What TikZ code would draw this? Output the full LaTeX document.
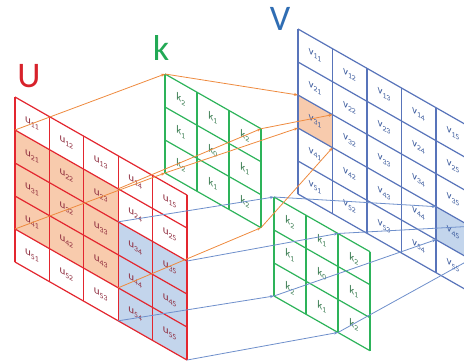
\documentclass[tikz,border=0pt]{standalone}
\usepackage{fontspec}
\setmainfont{Carlito}
\usetikzlibrary{arrows.meta}
\definecolor{ugrid}{HTML}{E3262F}
\definecolor{kgrid}{HTML}{2DB35A}
\definecolor{vgrid}{HTML}{5874BA}
\definecolor{utext}{HTML}{8E2A3C}
\definecolor{ktext}{HTML}{3B7D52}
\definecolor{vtext}{HTML}{3D5C9E}
\definecolor{ofill}{HTML}{F8CBAD}
\definecolor{bfill}{HTML}{C3D5EC}
\definecolor{oconn}{HTML}{EE8A3E}
\definecolor{bconn}{HTML}{6E8FCB}
\definecolor{bigU}{HTML}{D7222B}
\definecolor{bigk}{HTML}{22A955}
\definecolor{bigV}{HTML}{2F6DB3}
\begin{document}
\begin{tikzpicture}[x=1pt,y=-1pt,
  conn/.style={line width=0.8pt,-{Stealth[length=4pt,width=3pt]}},
  oline/.style={conn,draw=oconn},
  bline/.style={conn,draw=bconn},
  lab/.style={transform shape,inner sep=0pt,font=\fontsize{11}{13}\selectfont},
  gline/.style={line width=1.2pt},
  big/.style={font=\fontsize{36}{40}\selectfont,inner sep=0pt}]
\useasboundingbox (0,0) rectangle (464,362);
\clip (0,0) rectangle (464,362);
% ---------- U grid ----------
\begin{scope}[shift={(15,97)},yslant=-0.57]
  \fill[white] (0,0) rectangle (172,165);
  \fill[ofill] (0,33) rectangle (103.2,132);
  \fill[bfill] (103.2,66) rectangle (172,165);
  \foreach \i in {0,...,5} {
    \draw[gline,ugrid] ({\i*34.4},0) -- ({\i*34.4},165);
    \draw[gline,ugrid] (0,{\i*33}) -- (172,{\i*33});
  }
  \foreach \r in {1,...,5} \foreach \c in {1,...,5}
    \node[lab,text=utext] (u\r\c) at ({(\c-0.5)*34.4},{(\r-0.5)*33}) {u\textsubscript{\r\c}};
  \coordinate (uoTL) at (0,33);
  \coordinate (uoTR) at (103.2,33);
  \coordinate (uoBL) at (0,132);
  \coordinate (uoBR) at (103.2,132);
  \coordinate (ubTL) at (103.2,66);
  \coordinate (ubTR) at (172,66);
  \coordinate (ubBL) at (103.2,165);
  \coordinate (ubBR) at (172,165);
\end{scope}
% ---------- V grid ----------
\begin{scope}[shift={(298,29)},yslant=-0.57]
  \fill[white] (0,0) rectangle (172.5,165);
  \fill[ofill] (0,66) rectangle (34.5,99);
  \fill[bfill] (138,99) rectangle (172.5,132);
  \foreach \i in {0,...,5} {
    \draw[gline,vgrid] ({\i*34.5},0) -- ({\i*34.5},165);
    \draw[gline,vgrid] (0,{\i*33}) -- (172.5,{\i*33});
  }
  \foreach \r in {1,...,5} \foreach \c in {1,...,5}
    \node[lab,text=vtext] (v\r\c) at ({(\c-0.5)*34.5},{(\r-0.5)*33}) {v\textsubscript{\r\c}};
  \coordinate (voTL) at (0,66);
  \coordinate (voTR) at (34.5,66);
  \coordinate (voBL) at (0,99);
  \coordinate (voBR) at (34.5,99);
  \coordinate (vbTL) at (138,99);
  \coordinate (vbTR) at (172.5,99);
  \coordinate (vbBL) at (138,132);
  \coordinate (vbBR) at (172.5,132);
\end{scope}
% ---------- k grid 1 ----------
\begin{scope}[shift={(165,74)},yslant=-0.57]
  \foreach \i in {0,...,3} {
    \draw[gline,kgrid] ({\i*32},0) -- ({\i*32},99);
    \draw[gline,kgrid] (0,{\i*33}) -- (96,{\i*33});
  }
  \foreach \r/\c/\t in {1/1/2,1/2/1,1/3/2,2/1/1,2/2/0,2/3/1,3/1/2,3/2/1,3/3/2}
    \node[lab,text=ktext] (ka\r\c) at ({(\c-0.5)*32},{(\r-0.5)*33}) {k\textsubscript{\t}};
  \coordinate (k1TL) at (0,0);
  \coordinate (k1TR) at (96,0);
  \coordinate (k1BL) at (0,99);
  \coordinate (k1BR) at (96,99);
\end{scope}
% ---------- k grid 2 ----------
\begin{scope}[shift={(274,197)},yslant=-0.57]
  \fill[white] (0,0) rectangle (96,99);
  \foreach \i in {0,...,3} {
    \draw[gline,kgrid] ({\i*32},0) -- ({\i*32},99);
    \draw[gline,kgrid] (0,{\i*33}) -- (96,{\i*33});
  }
  \foreach \r/\c/\t in {1/1/2,1/2/1,1/3/2,2/1/1,2/2/0,2/3/1,3/1/2,3/2/1,3/3/2}
    \node[lab,text=ktext] (kb\r\c) at ({(\c-0.5)*32},{(\r-0.5)*33}) {k\textsubscript{\t}};
  \coordinate (k2TL) at (0,0);
  \coordinate (k2TR) at (64,0);
  \coordinate (k2BL) at (0,99);
  \coordinate (k2BR) at (64,99);
\end{scope}
% ---------- big letters ----------
\node[big,text=bigU] (Ulab) at (29,76) {U};
\node[big,text=bigk] (klab) at (161,48) {k};
\node[big,text=bigV] (Vlab) at (280,19) {V};
% ---------- connectors ----------
\foreach \p in {TL,TR,BL,BR} {
  \draw[oline] (uo\p) -- (k1\p);
  \draw[oline] (k1\p) -- (vo\p);
  \draw[bline] (ub\p) -- (k2\p);
  \draw[bline] (k2\p) -- (vb\p);
}
\end{tikzpicture}
\end{document}
